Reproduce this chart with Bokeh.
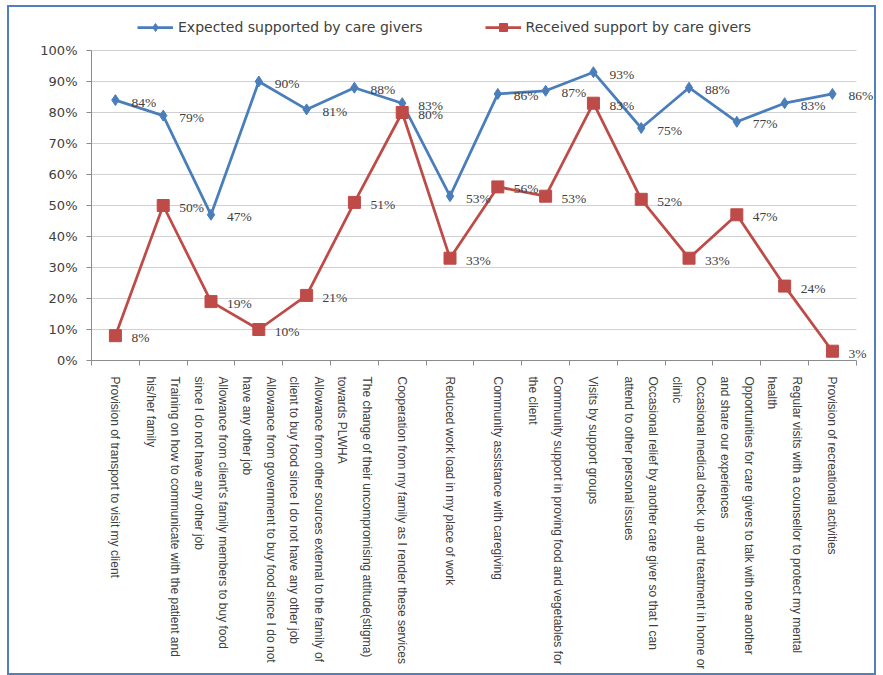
import math
from bokeh.plotting import figure
from bokeh.models import (ColumnDataSource, Range1d, FixedTicker,
                          NumeralTickFormatter, Legend, LegendItem, LabelSet)
from bokeh.layouts import column
from bokeh.embed import file_html
from bokeh.resources import INLINE

categories = [
    "Provision of transport to visit my client",
    "Training on how to communicate with the patient and\nhis/her family",
    "Allowance from client's family members to buy food\nsince I do not have any other job",
    "Allowance from government to buy food since I do not\nhave any other job",
    "Allowance from other sources external to the family of\nclient to buy food since I do not have any other job",
    "The change of their uncompromising attitude(stigma)\ntowards PLWHA",
    "Cooperation from my family as I render these services",
    "Reduced work load in my place of work",
    "Community assistance with caregiving",
    "Community support in proving food and vegetables for\nthe client",
    "Visits by support groups",
    "Occasional relief by another care giver so that I can\nattend to other personal issues",
    "Occasional medical check up and treatment in home or\nclinic",
    "Opportunities for care givers to talk with one another\nand share our experiences",
    "Regular visits with a counsellor to protect my mental\nhealth",
    "Provision of recreational activities",
]
expected = [84, 79, 47, 90, 81, 88, 83, 53, 86, 87, 93, 75, 88, 77, 83, 86]
received = [8, 50, 19, 10, 21, 51, 80, 33, 56, 53, 83, 52, 33, 47, 24, 3]
y_ticks = [0, 0.1, 0.2, 0.3, 0.4, 0.5, 0.6, 0.7, 0.8, 0.9, 1.0]
series_names = ["Expected supported by care givers", "Received support by care givers"]

BLUE = "#4A7EBB"
RED = "#BE4B48"
TXT = "#404040"
AXC = "#8C8C8C"

n = len(categories)
idx = list(range(n))
boundaries = [i - 0.5 for i in idx] + [n - 0.5]

src_e = ColumnDataSource(dict(x=idx, y=[v / 100 for v in expected],
                              lab=[f"{v}%" for v in expected]))
src_r = ColumnDataSource(dict(x=idx, y=[v / 100 for v in received],
                              lab=[f"{v}%" for v in received]))

p = figure(width=865, height=666, x_range=Range1d(-0.5, n - 0.12),
           y_range=Range1d(0, 1 + 43 / 310), output_backend="svg", toolbar_location=None,
           min_border_left=82, min_border_right=0, min_border_top=0, min_border_bottom=313)
p.background_fill_color = "white"
p.border_fill_color = "white"
p.outline_line_color = None

# y axis
p.yaxis.ticker = FixedTicker(ticks=y_ticks)
p.yaxis.formatter = NumeralTickFormatter(format="0%")
p.yaxis.bounds = (0, 1)
p.yaxis.major_label_text_font = "DejaVu Sans"
p.yaxis.major_label_text_font_size = "13px"
p.yaxis.major_label_text_color = TXT
p.yaxis.axis_line_color = AXC
p.yaxis.major_tick_line_color = AXC
p.yaxis.major_tick_out = 5
p.yaxis.major_tick_in = 0
p.yaxis.minor_tick_line_color = None
p.yaxis.major_label_standoff = 9

# x axis (category axis)
p.xaxis.ticker = FixedTicker(ticks=idx, minor_ticks=boundaries)
p.xaxis.major_label_overrides = {i: c for i, c in zip(idx, categories)}
p.xaxis.bounds = (-0.5, n - 0.5)
p.xaxis.major_label_orientation = -math.pi / 2
p.xaxis.major_label_text_font = "Liberation Sans"
p.xaxis.major_label_text_font_size = "12px"
p.xaxis.major_label_text_color = TXT
p.xaxis.major_label_text_line_height = 1.75
p.xaxis.axis_line_color = AXC
p.xaxis.major_tick_line_color = None
p.xaxis.minor_tick_line_color = AXC
p.xaxis.minor_tick_out = 5
p.xaxis.minor_tick_in = 0
p.xaxis.major_label_standoff = 10

p.xgrid.grid_line_color = None
p.ygrid.grid_line_color = "#D0D0D0"
p.ygrid.grid_line_width = 1
p.ygrid.cross_bounds = (-0.5, n - 0.5)

# series
le = p.line("x", "y", source=src_e, line_color=BLUE, line_width=2.75)
se = p.scatter("x", "y", source=src_e, marker="diamond", size=11,
               fill_color=BLUE, line_color=BLUE)
lr = p.line("x", "y", source=src_r, line_color=RED, line_width=2.75)
sr = p.scatter("x", "y", source=src_r, marker="square", size=12,
               fill_color=RED, line_color=RED)

for src in (src_e, src_r):
    p.add_layout(LabelSet(x="x", y="y", text="lab", source=src, x_offset=16, y_offset=-2,
                          text_baseline="middle", text_align="left",
                          text_font="DejaVu Sans", text_font_size="13.5px", text_color=TXT))

legend = Legend(items=[LegendItem(label=series_names[0], renderers=[le, se]),
                       LegendItem(label=series_names[1], renderers=[lr, sr])],
                orientation="horizontal", location=(46, 323),
                padding=0, margin=0,
                label_text_font="DejaVu Sans", label_text_font_size="14px",
                label_text_color=TXT, glyph_width=36, spacing=62,
                border_line_color=None, background_fill_alpha=0)
p.add_layout(legend)

layout = column(p, margin=(5, 0, 0, 7), styles={"border": "2px solid #4F81BD"})
open("out.html", "w").write(file_html(layout, INLINE))
